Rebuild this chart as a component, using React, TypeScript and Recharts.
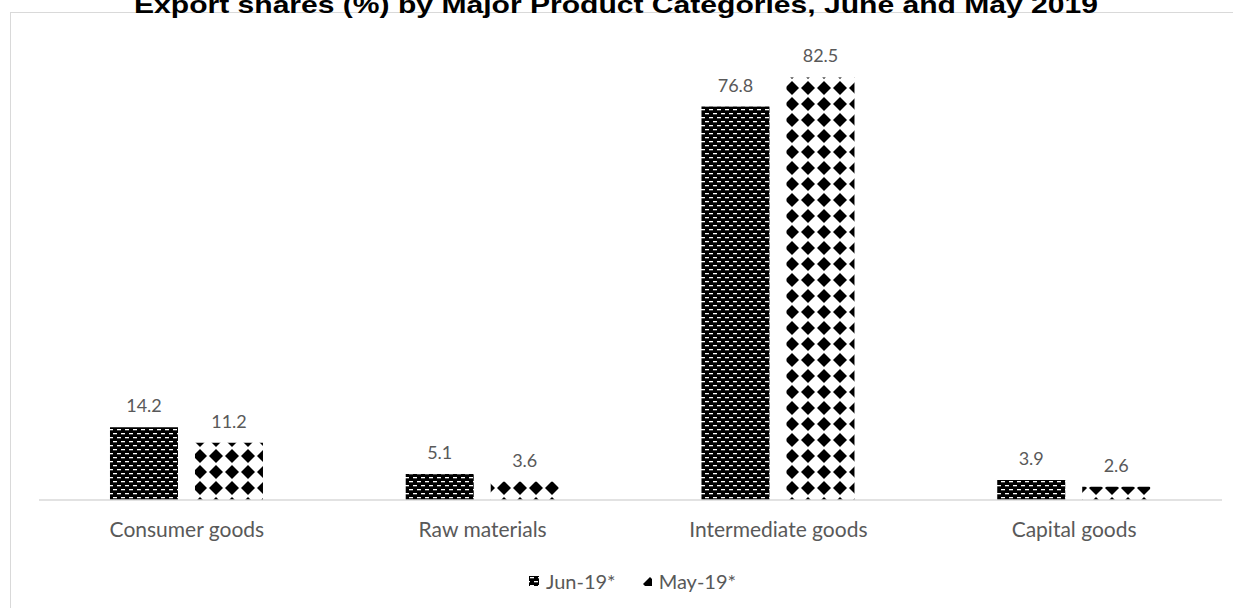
import React from 'react';
import { BarChart, Bar, XAxis, YAxis, LabelList } from 'recharts';

const categories = ['Consumer goods', 'Raw materials', 'Intermediate goods', 'Capital goods'];
const jun19 = [14.2, 5.1, 76.8, 3.9];
const may19 = [11.2, 3.6, 82.5, 2.6];
const seriesNames = ['Jun-19*', 'May-19*'];

const data = categories.map((name, i) => ({ name, jun: jun19[i], may: may19[i] }));

const LABEL_FONT = 'Lato, "Open Sans", sans-serif';

function ChartLegend() {
  const items = [
    { name: seriesNames[0], fill: 'url(#patJun)' },
    { name: seriesNames[1], fill: 'url(#patMay)' },
  ];
  return (
    <div
      style={{
        position: 'absolute',
        left: 529,
        top: 569,
        display: 'flex',
        gap: 26,
        fontFamily: LABEL_FONT,
        fontSize: 20,
        color: '#595959',
      }}
    >
      {items.map((it) => (
        <div key={it.name} style={{ display: 'flex', alignItems: 'center', gap: 7 }}>
          <svg width={10} height={10}>
            <rect width={10} height={10} fill={it.fill} />
          </svg>
          <span>{it.name}</span>
        </div>
      ))}
    </div>
  );
}

export default function App() {
  return (
    <div style={{ position: 'absolute', left: 0, top: 0, width: 1233, height: 608, overflow: 'hidden', background: '#fff' }}>
      <div
        style={{
          position: 'absolute',
          left: 10,
          top: 12,
          width: 1260,
          height: 640,
          border: '1px solid #d9d9d9',
          boxSizing: 'border-box',
        }}
      />
      <svg width={1233} height={30} style={{ position: 'absolute', left: 0, top: 0 }}>
        <text
          x={616}
          y={13}
          textAnchor="middle"
          textLength={964}
          lengthAdjust="spacingAndGlyphs"
          style={{ fontFamily: '"Liberation Sans", Arial, sans-serif', fontWeight: 'bold', fontSize: 24, fill: '#000' }}
        >
          Export shares (%) by Major Product Categories, June and May 2019
        </text>
      </svg>
      <div style={{ position: 'absolute', left: 0, top: 0 }}>
        <BarChart
          width={1233}
          height={608}
          data={data}
          margin={{ top: 39, left: 39, right: 11, bottom: 78 }}
          barCategoryGap="24%"
          barGap={17}
        >
          <defs>
            <pattern id="patJun" patternUnits="userSpaceOnUse" width={8} height={8}>
              <rect width={8} height={8} fill="#000" />
              <rect x={1} y={1} width={4} height={1.3} fill="#fff" />
              <rect x={5} y={5} width={4} height={1.3} fill="#fff" />
              <rect x={-3} y={5} width={4} height={1.3} fill="#fff" />
            </pattern>
            <pattern id="patMay" patternUnits="userSpaceOnUse" width={16} height={16}>
              <rect width={16} height={16} fill="#fff" />
              <polygon points="8,1 15,8 8,15 1,8" fill="#000" />
            </pattern>
          </defs>
          <XAxis
            dataKey="name"
            height={30}
            axisLine={{ stroke: '#d9d9d9', strokeWidth: 1.5 }}
            tickLine={false}
            tickMargin={16}
            tick={{ fill: '#595959', fontSize: 21, fontFamily: LABEL_FONT }}
          />
          <YAxis hide domain={[0, 90]} />
          <Bar dataKey="jun" name={seriesNames[0]} fill="url(#patJun)" isAnimationActive={false}>
            <LabelList dataKey="jun" position="top" offset={15} fill="#595959" fontSize={18} fontFamily={LABEL_FONT} />
          </Bar>
          <Bar dataKey="may" name={seriesNames[1]} fill="url(#patMay)" isAnimationActive={false}>
            <LabelList dataKey="may" position="top" offset={15} fill="#595959" fontSize={18} fontFamily={LABEL_FONT} />
          </Bar>
        </BarChart>
      </div>
      <ChartLegend />
    </div>
  );
}
